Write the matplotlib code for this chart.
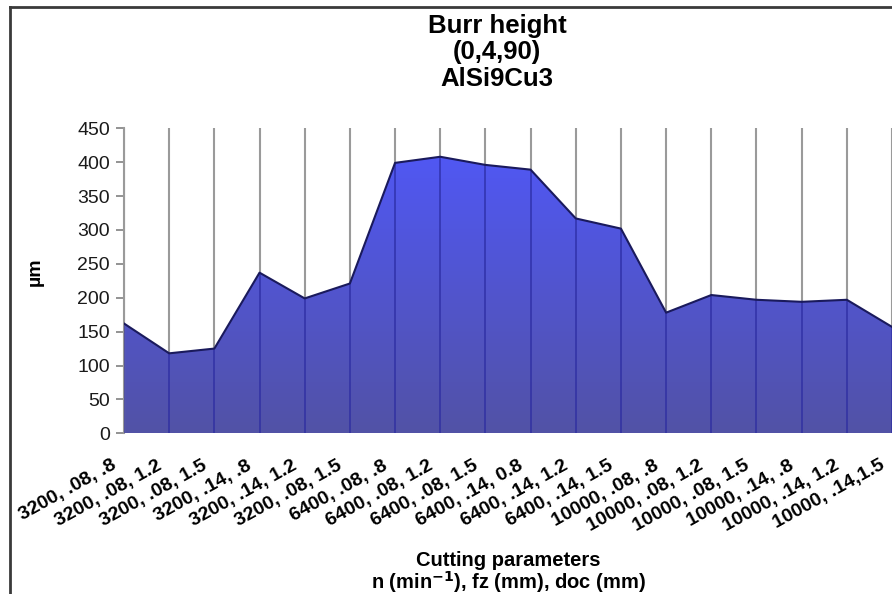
import numpy as np
import matplotlib.pyplot as plt
import matplotlib.transforms as mtransforms
from matplotlib.lines import Line2D
from matplotlib.colors import LinearSegmentedColormap

plt.rcParams['font.family'] = ['Liberation Sans', 'DejaVu Sans']

# cutting parameters: n, fz, doc
labels = ['3200, .08, .8', '3200, .08, 1.2', '3200, .08, 1.5', '3200, .14, .8',
          '3200, .14, 1.2', '3200, .08, 1.5', '6400, .08, .8', '6400, .08, 1.2',
          '6400, .08, 1.5', '6400, .14, 0.8', '6400, .14, 1.2', '6400, .14, 1.5',
          '10000, .08, .8', '10000, .08, 1.2', '10000, .08, 1.5', '10000, .14, .8',
          '10000, .14, 1.2', '10000, .14,1.5']
burr = [162, 118, 125, 237, 199, 221, 399, 408, 396, 389, 317, 302,
        178, 204, 197, 194, 197, 157]
yticks = [0, 50, 100, 150, 200, 250, 300, 350, 400, 450]

x = np.arange(len(burr))

fig = plt.figure(figsize=(8.92, 5.94), dpi=100)
ax = fig.add_axes([124/892, 1 - 433.3/594, 1 - 124/892, (433.3 - 128.3)/594])

# grid lines behind
for xi in x:
    ax.axvline(xi, color='#9a9a9a', lw=1.5, zorder=1)

# gradient fill under the curve
poly = ax.fill_between(x, 0, burr, color='none', zorder=2)
grad = np.linspace(0, 1, 256).reshape(-1, 1)
cmap = LinearSegmentedColormap.from_list('g', ['#5252a6', '#5058fb'])
im = ax.imshow(grad, cmap=cmap, aspect='auto', origin='lower',
               extent=[0, len(burr) - 1, 0, 450], zorder=2)
im.set_clip_path(poly.get_paths()[0], transform=ax.transData)

# grid lines showing through the fill
ax.vlines(x, 0, burr, color='#2a2aa0', lw=1.3, alpha=0.7, zorder=3)
ax.plot(x, burr, color='#1a1a5c', lw=1.5, zorder=4)

ax.set_xlim(0, len(burr) - 1)
ax.set_ylim(0, 450)
ax.set_yticks(yticks)
ax.tick_params(axis='y', labelsize=14, labelcolor='#1a1a1a', length=6, width=1.2,
               color='#808080', direction='out', pad=4)
ax.set_xticks(x)
ax.set_xticklabels(labels, rotation=29, ha='right', va='top', rotation_mode='anchor',
                   fontsize=14, fontweight='bold')
ax.tick_params(axis='x', length=0, pad=17)
shift = mtransforms.ScaledTranslation(-13/100, 0, fig.dpi_scale_trans)
for lab in ax.get_xticklabels():
    lab.set_transform(lab.get_transform() + shift)
for s in ['top', 'right', 'bottom']:
    ax.spines[s].set_visible(False)
ax.spines['left'].set_color('#9a9a9a')
ax.spines['left'].set_linewidth(1.5)

ax.set_ylabel('µm', fontsize=14, fontweight='bold')
ax.yaxis.set_label_coords(-0.104, 0.529)

tx = 497/892
fig.text(tx, 1 - 33/594, 'Burr height', ha='center', va='baseline',
         fontsize=18.5, fontweight='bold')
fig.text(tx, 1 - 58.5/594, '(0,4,90)', ha='center', va='baseline',
         fontsize=18.5, fontweight='bold')
fig.text(tx, 1 - 86/594, 'AlSi9Cu3', ha='center', va='baseline',
         fontsize=18.5, fontweight='bold')

fig.text(508/892, 1 - 566/594, 'Cutting parameters', ha='center', va='baseline',
         fontsize=14.5, fontweight='bold')
fig.text(508/892, 1 - 589/594, r'n (min$^{\mathbf{-1}}$), fz (mm), doc (mm)',
         ha='center', va='baseline', fontsize=14.5, fontweight='bold')

# chart frame (left and top edges visible)
fig.add_artist(Line2D([10/892, 10/892], [0, 1 - 7/594], transform=fig.transFigure,
                      color='#3a3a3a', lw=2))
fig.add_artist(Line2D([10/892, 1], [1 - 7/594, 1 - 7/594], transform=fig.transFigure,
                      color='#3a3a3a', lw=2))

fig.savefig('out.png', dpi=100)
